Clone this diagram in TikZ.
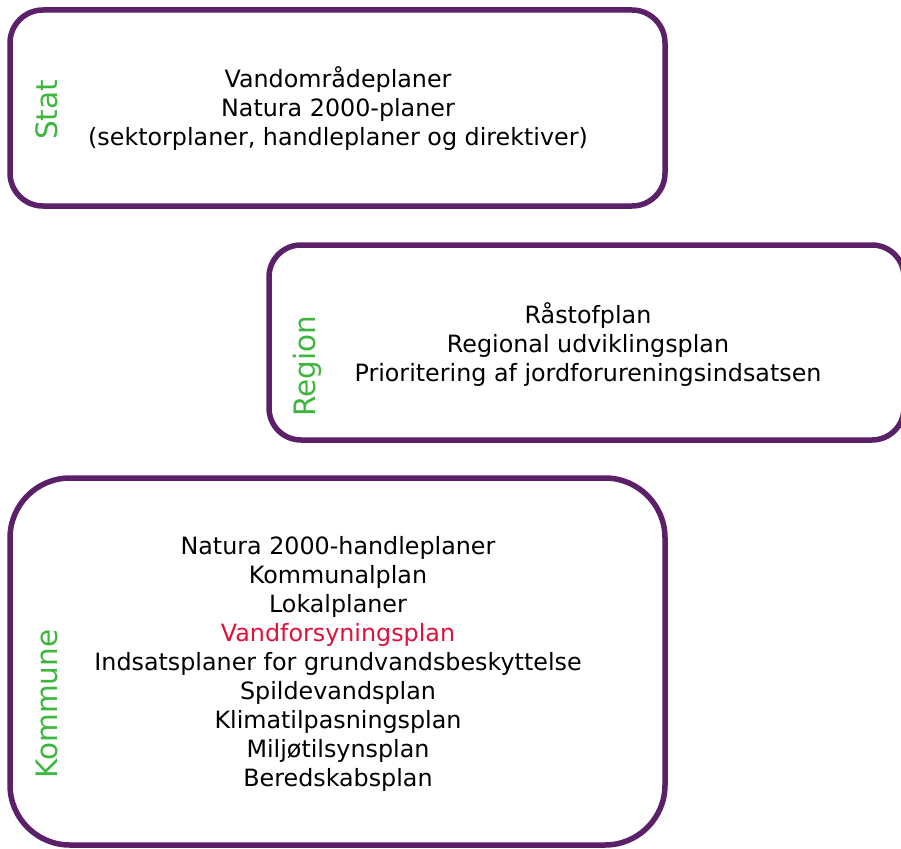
\documentclass[tikz,border=0pt]{standalone}
\usepackage{fontspec}
\setmainfont{DejaVu Sans}
\definecolor{boxpurple}{HTML}{5C2068}
\definecolor{lvlgreen}{HTML}{3DB63D}
\definecolor{hlred}{HTML}{E0103A}
\tikzset{
  levelbox/.style={draw=boxpurple, line width=5.5pt, fill=white},
  levellabel/.style={text=lvlgreen, rotate=90, font=\fontsize{29.5}{34}\selectfont, inner sep=0pt},
  plantext/.style={align=center, font=\fontsize{23.8}{29}\selectfont, inner sep=0pt, text=black}
}
\begin{document}
\begin{tikzpicture}[x=1pt,y=-1pt]
\useasboundingbox (0,0) rectangle (901,848);
\begin{scope}
\clip (0,0) rectangle (901,848);
\draw[levelbox, rounded corners=33pt] (10,10) rectangle (665,206);
\draw[levelbox, rounded corners=32pt] (269,245) rectangle (904,440);
\draw[levelbox, rounded corners=60pt] (10,478) rectangle (665,845);
\end{scope}
\node[levellabel] (stat) at (47,110) {Stat};
\node[levellabel] (region) at (307,366) {Region};
\node[levellabel] (kommune) at (47,704) {Kommune};
\node[plantext] (stattxt) at (338,109) {Vandområdeplaner\\Natura 2000-planer\\(sektorplaner, handleplaner og direktiver)};
\node[plantext] (regiontxt) at (588,345) {Råstofplan\\Regional udviklingsplan\\Prioritering af jordforureningsindsatsen};
\node[plantext] (kommunetxt) at (338,664) {Natura 2000-handleplaner\\Kommunalplan\\Lokalplaner\\\textcolor{hlred}{Vandforsyningsplan}\\Indsatsplaner for grundvandsbeskyttelse\\Spildevandsplan\\Klimatilpasningsplan\\Miljøtilsynsplan\\Beredskabsplan};
\end{tikzpicture}
\end{document}
